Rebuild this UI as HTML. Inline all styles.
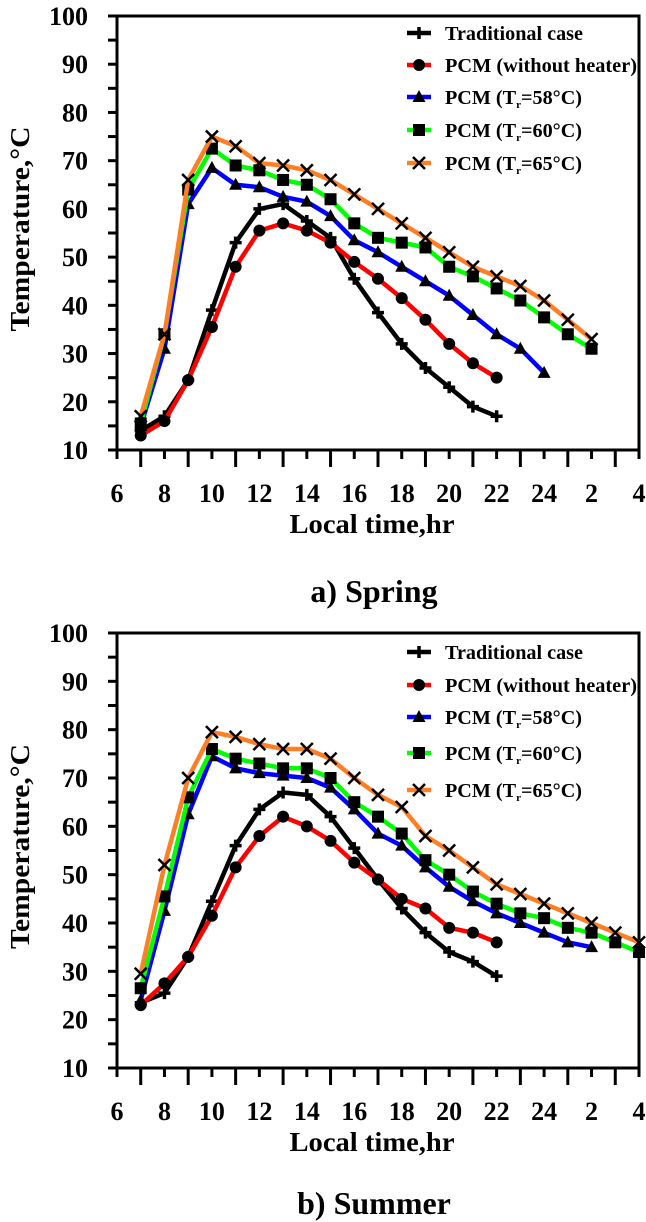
<!DOCTYPE html>
<html><head><meta charset="utf-8"><style>
body{margin:0;background:#fff;}
svg{display:block;font-family:"Liberation Serif",serif;font-weight:bold;}
</style></head><body>
<svg id="fig" width="646" height="1222" viewBox="0 0 646 1222"></svg>
<script>
const hoursAll = [7,8,9,10,11,12,13,14,15,16,17,18,19,20,21,22,23,24,25,26,27,28];
const xTickLabels = ["6","8","10","12","14","16","18","20","22","24","2","4"];
const yTickLabels = [10,20,30,40,50,60,70,80,90,100];
const seriesNames = ["Traditional case","PCM (without heater)","PCM (T_r=58°C)","PCM (T_r=60°C)","PCM (T_r=65°C)"];
// Spring
const springTrad = [14,17,24.5,39,53,60,61,57.5,54,45.5,38.5,32,27,23,19,17];
const springNoHeat = [13,16,24.5,35.5,48,55.5,57,55.5,53,49,45.5,41.5,37,32,28,25];
const spring58 = [15,31,61,68.5,65,64.5,62.5,61.5,58.5,53.5,51,48,45,42,38,34,31,26];
const spring60 = [15.5,34,64,72.5,69,68,66,65,62,57,54,53,52,48,46,43.5,41,37.5,34,31];
const spring65 = [17,34,66,75,73,69.5,69,68,66,63,60,57,54,51,48,46,44,41,37,33];
// Summer
const summerTrad = [23.5,25.5,33,44.5,56,63.5,67,66.5,62,55.5,49,43,38,34,32,29];
const summerNoHeat = [23,27.5,33,41.5,51.5,58,62,60,57,52.5,49,45,43,39,38,36];
const summer58 = [24,42.5,62.5,74.5,72,71,70.5,70,68,63.5,58.5,56,51.5,47.5,44.5,42,40,38,36,35];
const summer60 = [26.5,45.5,66,76,74,73,72,72,70,65,62,58.5,53,50,46.5,44,42,41,39,38,36,34];
const summer65 = [29.5,52,70,79.5,78.5,77,76,76,74,70,66.5,64,58,55,51.5,48,46,44,42,40,38,36];

const NS="http://www.w3.org/2000/svg";
const svg=document.getElementById('fig');
function mk(tag,attrs,parent){const e=document.createElementNS(NS,tag);for(const k in attrs)e.setAttribute(k,attrs[k]);(parent||svg).appendChild(e);return e;}
const colors=["#000","#ff0000","#0000ff","#00ff00","#ff7f27"];
const markers=["plus","circle","triangle","square","cross"];
const legendLens=[138,192,137,137,137];

function marker(g,type,x,y){
  let m;
  if(type==="plus"){m=mk('path',{d:`M${x-6},${y}H${x+6}M${x},${y-6}V${y+6}`,stroke:'#000','stroke-width':3.5,fill:'none'},g);}
  else if(type==="circle"){m=mk('circle',{cx:x,cy:y,r:6,fill:'#000'},g);}
  else if(type==="triangle"){m=mk('path',{d:`M${x},${y-7}L${x+6.5},${y+5}L${x-6.5},${y+5}Z`,fill:'#000'},g);}
  else if(type==="square"){m=mk('rect',{x:x-6,y:y-6,width:12,height:12,fill:'#000'},g);}
  else {m=mk('path',{d:`M${x-6},${y-6}L${x+6},${y+6}M${x-6},${y+6}L${x+6},${y-6}`,stroke:'#000','stroke-width':2.5,fill:'none'},g);}
  
  
}

function chart(name,top,bottom,data,title,titleY,legendYs){
  const L=117,R=639;
  const xs=h=>L+(h-6)*(R-L)/22;
  const ys=v=>bottom-(v-10)*(bottom-top)/90;
  const g=mk('g',{});
  
  
  const fr=mk('path',{d:`M${L},${bottom}V${top}H${R}V${bottom}H${L}`,fill:'none',stroke:'#000','stroke-width':3},g);
  
  
  for(let v=10;v<=100;v+=5){
    const t=mk('line',{x1:L-9,x2:L,y1:ys(v),y2:ys(v),stroke:'#000','stroke-width':3},g);
    
    
  }
  yTickLabels.forEach(v=>{
    const t=mk('text',{x:88,y:ys(v)+9,'text-anchor':'end','font-size':26},g);
    t.textContent=v;
    
    
  });
  for(let h=6;h<=28;h++){
    const big=(h%2===1);
    const t=mk('line',{x1:xs(h),x2:xs(h),y1:bottom,y2:bottom+(big?17:9),stroke:'#000','stroke-width':3},g);
    
    
  }
  xTickLabels.forEach((s,i)=>{
    const t=mk('text',{x:xs(6+2*i),y:bottom+52,'text-anchor':'middle','font-size':26},g);
    t.textContent=s;
    
    
  });
  const yt=mk('text',{x:0,y:0,'text-anchor':'middle','font-size':27,textLength:205,lengthAdjust:'spacingAndGlyphs',transform:`translate(29,${(top+bottom)/2-4}) rotate(-90)`},g);
  yt.textContent='Temperature,°C';
  
  
  const xt=mk('text',{x:372,y:bottom+83,'text-anchor':'middle','font-size':27,textLength:165,lengthAdjust:'spacingAndGlyphs'},g);
  xt.textContent='Local time,hr';
  
  
  const tt=mk('text',{x:374,y:titleY,'text-anchor':'middle','font-size':32},g);
  tt.textContent=title;
  
  
  data.forEach((arr,si)=>{
    const sg=mk('g',{},g);
    
    
    const pts=arr.map((v,i)=>`${xs(hoursAll[i]).toFixed(1)},${ys(v).toFixed(1)}`).join(' ');
    const pl=mk('polyline',{points:pts,fill:'none',stroke:colors[si],'stroke-width':4.5,'stroke-linejoin':'round'},sg);
    
    
    arr.forEach((v,i)=>marker(sg,markers[si],xs(hoursAll[i]),ys(v)));
  });
  const lg=mk('g',{},g);
  
  
  seriesNames.forEach((n,i)=>{
    const y=legendYs[i];
    const e=mk('g',{},lg);
    
    
    mk('line',{x1:407,x2:431,y1:y,y2:y,stroke:colors[i],'stroke-width':4.5},e);
    marker(e,markers[i],419,y);
    const t=mk('text',{x:445,y:y+7,'font-size':20,textLength:legendLens[i],lengthAdjust:'spacingAndGlyphs'},e);
    if(n.indexOf('T_r')>=0){
      const parts=n.split('T_r');
      t.appendChild(document.createTextNode(parts[0]+'T'));
      const sub=mk('tspan',{'font-size':11,dy:4},t);sub.textContent='r';
      const rest=mk('tspan',{dy:-4},t);rest.textContent=parts[1];
    } else t.textContent=n;
  });
}
chart('spring-chart',16,450,[springTrad,springNoHeat,spring58,spring60,spring65],'a) Spring',602,[33,65,97,130,163]);
chart('summer-chart',633,1068,[summerTrad,summerNoHeat,summer58,summer60,summer65],'b) Summer',1214,[652,685,717,753,790]);
</script>
</body></html>
